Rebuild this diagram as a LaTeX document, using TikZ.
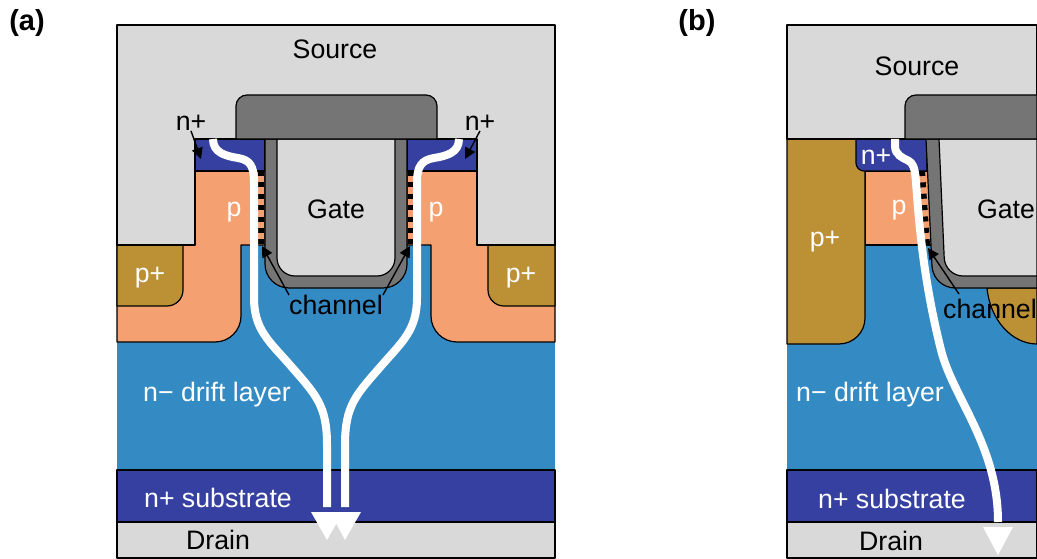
\documentclass[tikz,border=0pt]{standalone}
\usepackage{fontspec}
\setmainfont{Liberation Sans}
\usepackage{xcolor}
\usetikzlibrary{positioning, shapes}
\usetikzlibrary{arrows.meta}
\definecolor{greymetal}{HTML}{D9D9D9}
\definecolor{greyoxide}{HTML}{757575}
\definecolor{bluedrift}{HTML}{348BC4}
\definecolor{bluenplus}{HTML}{3540A0}
\definecolor{orangep}{HTML}{F4A071}
\definecolor{goldp}{HTML}{BC9135}

\begin{document}
\begin{tikzpicture}[x=1pt,y=-1pt]
                \tikzset{region/.style = {draw=black, line width=1.2pt, line join=round}}
                \tikzset{lab/.style = {inner sep=0pt, font=\fontsize{26.7}{30}\selectfont}}
                \tikzset{whitelab/.style = {lab, text=white}}
                \tikzset{panel/.style = {inner sep=0pt, font=\fontsize{29}{32}\selectfont\bfseries}}
                \tikzset{flow/.style = {draw=white, line width=8pt}}
                \tikzset{flowtip/.style = {fill=white}}
                \tikzset{chan/.style = {line width=6pt, dash pattern=on 5pt off 6.4pt}}
                \tikzset{smalledge/.style = {-{Triangle[length=11pt,width=11pt]}, line width=1.4pt}}

                \useasboundingbox (0,0) rectangle (1037,559);

                % panel a
                \fill[bluedrift] (117,245) rectangle (555,470);
                \draw[region, fill=orangep] (195,171) -- (265,171) -- (265,245) -- (241,245) [rounded corners=26pt] -- (241,342) [sharp corners] -- (117,342) -- (117,245) -- (195,245) -- cycle;
                \draw[region, fill=orangep] (477,171) -- (407,171) -- (407,245) -- (431,245) [rounded corners=26pt] -- (431,342) [sharp corners] -- (555,342) -- (555,245) -- (477,245) -- cycle;
                \draw[region, fill=goldp] (117,245) -- (183,245) [rounded corners=16pt] -- (183,306) [sharp corners] -- (117,306) -- cycle;
                \draw[region, fill=goldp] (555,245) -- (488,245) [rounded corners=16pt] -- (488,306) [sharp corners] -- (555,306) -- cycle;
                \draw[region, fill=bluenplus] (195,139) rectangle (265,171);
                \draw[region, fill=bluenplus] (407,139) rectangle (477,171);
                \draw[region, fill=bluenplus] (117,470) rectangle (555,522);
                \draw[region, fill=greymetal] (117,522) rectangle (555,558);
                \draw[region, fill=greymetal] (117,25) -- (555,25) -- (555,245) -- (477,245) -- (477,139) -- (195,139) -- (195,245) -- (117,245) -- cycle;
                \draw[region, fill=greyoxide] (265,139) [rounded corners=24pt] -- (265,288) -- (407,288) [sharp corners] -- (407,139) -- cycle;
                \draw[region, fill=greymetal] (277,139) [rounded corners=18pt] -- (277,276) -- (395,276) [sharp corners] -- (395,139) -- cycle;
                \draw[region, fill=greyoxide] (236,139) [rounded corners=11pt] -- (236,95) -- (437,95) [sharp corners] -- (437,139) -- cycle;

                % channel and current
                \coordinate (chana1) at (261,171);
                \coordinate (chana2) at (261,245);
                \coordinate (chana3) at (411,171);
                \coordinate (chana4) at (411,245);
                \draw[chan] (chana1) -- (chana2);
                \draw[chan] (chana3) -- (chana4);
                \draw[flow] (213,139) .. controls (213,153) and (226,156) .. (238,158) .. controls (250,160) and (254,166) .. (254,182) -- (254,298) .. controls (254,330) and (270,342) .. (290,365) .. controls (316,395) and (327,405) .. (327,445) -- (327,507);
                \draw[flow] (459,139) .. controls (459,153) and (446,156) .. (434,158) .. controls (422,160) and (417,166) .. (417,182) -- (417,298) .. controls (417,330) and (402,342) .. (382,365) .. controls (356,395) and (345,405) .. (345,445) -- (345,507);
                \fill[flowtip] (311,512) -- (343,512) -- (327,540) -- cycle;
                \fill[flowtip] (330,512) -- (361,512) -- (345,540) -- cycle;

                \node[panel] (labela) at (27,23) {(a)};
                \node[lab] (sourcea) at (335,49) {Source};
                \node[lab] (gatea) at (336,209) {Gate};
                \node[lab] (nplusa1) at (191,123) {n+};
                \node[lab] (nplusa2) at (480,123) {n+};
                \node[lab] (channela) at (336,305) {channel};
                \node[whitelab] (pa1) at (234,212) {p};
                \node[whitelab] (pa2) at (436,212) {p};
                \node[whitelab] (pplusa1) at (150,278) {p+};
                \node[whitelab] (pplusa2) at (521,278) {p+};
                \node[whitelab] (drifta) at (217,395) {n− drift layer};
                \node[whitelab] (substratea) at (218,498) {n+ substrate};
                \node[lab] (draina) at (218,540) {Drain};

                % arrows
                \coordinate (tipa1) at (201,159);
                \coordinate (tipa2) at (465,159);
                \coordinate (tipa3) at (262,246);
                \coordinate (tipa4) at (410,246);
                \draw[smalledge] (nplusa1.south) -- (tipa1);
                \draw[smalledge] (nplusa2.south) -- (tipa2);
                \draw[smalledge] (channela.north west) -- (tipa3);
                \draw[smalledge] (channela.north east) -- (tipa4);

                % panel b
                \fill[bluedrift] (787,245) rectangle (1037,470);
                \draw[region, fill=goldp] (987,288) .. controls (990,320) and (1012,344) .. (1037,344) -- (1037,288) -- cycle;
                \draw[region, fill=orangep] (865,171) rectangle (932,245);
                \draw[region, fill=goldp] (787,139) -- (865,139) [rounded corners=26pt] -- (865,344) [sharp corners] -- (787,344) -- cycle;
                \draw[region, fill=bluenplus] (856,139) [rounded corners=8pt] -- (856,171) [sharp corners] -- (927,171) -- (927,139) -- cycle;
                \draw[region, fill=bluenplus] (787,470) -- (1037,470) -- (1037,522) -- (787,522) -- cycle;
                \draw[region, fill=greymetal] (787,522) -- (1037,522) -- (1037,558) -- (787,558) -- cycle;
                \draw[region, fill=greymetal] (787,25) -- (1037,25) -- (1037,139) -- (787,139) -- cycle;
                \draw[region, fill=greyoxide] (926,139) [rounded corners=22pt] -- (933,288) [sharp corners] -- (1037,288) -- (1037,139) -- cycle;
                \draw[region, fill=greymetal] (939,139) [rounded corners=18pt] -- (945,276) [sharp corners] -- (1037,276) -- (1037,139) -- cycle;
                \draw[region, fill=greyoxide] (1037,139) -- (905,139) [rounded corners=11pt] -- (905,95) [sharp corners] -- (1037,95) -- cycle;

                % channel and current
                \coordinate (chanb1) at (922,171);
                \coordinate (chanb2) at (927,245);
                \draw[chan] (chanb1) -- (chanb2);
                \draw[flow] (895,139) -- (895,146) .. controls (895,155) and (903,158) .. (907,160) .. controls (914,163) and (915,170) .. (916,182) .. controls (920,240) and (926,290) .. (941,350) .. controls (953,398) and (998,445) .. (998,522);
                \fill[flowtip] (983,527) -- (1013,527) -- (998,555) -- cycle;

                \node[panel] (labelb) at (697,23) {(b)};
                \node[lab] (sourceb) at (917,66) {Source};
                \node[lab] (gateb) at (1006,209) {Gate};
                \node[lab] (channelb) at (990,309) {channel};
                \node[whitelab] (nplusb) at (876,157) {n+};
                \node[whitelab] (pb) at (899,210) {p};
                \node[whitelab] (pplusb) at (825,242) {p+};
                \node[whitelab] (driftb) at (870,395) {n− drift layer};
                \node[whitelab] (substrateb) at (892,499) {n+ substrate};
                \node[lab] (drainb) at (891,541) {Drain};

                % arrows
                \coordinate (startb) at (959,294);
                \coordinate (tipb) at (928,248);
                \draw[smalledge] (startb) -- (tipb);
\end{tikzpicture}
\end{document}
